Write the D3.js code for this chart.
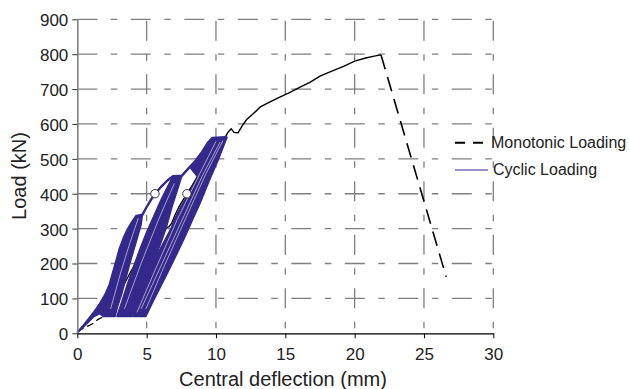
<!DOCTYPE html>
<html>
<head>
<meta charset="utf-8">
<script src="https://cdn.jsdelivr.net/npm/d3@7"></script>
<style>
  body { margin: 0; background: #fff; }
  svg { display: block; font-family: "Liberation Sans", Arial, sans-serif; }
</style>
</head>
<body>
<svg id="chart" width="629" height="389"></svg>
<script>
// --- data (deflection mm, load kN) ---
var xTicks = [0, 5, 10, 15, 20, 25, 30];
var yTicks = [0, 100, 200, 300, 400, 500, 600, 700, 800, 900];

var monotonic = [
  [0,5],[0.3,12],[0.6,18],[0.9,23],[1.2,30],[1.5,40],[1.8,46],[2.1,50],
  [2.5,75],[3.0,110],[3.5,150],[3.9,180],[4.2,200],[4.7,230],[5.2,260],[5.7,285],
  [6.2,300],[6.6,305],[6.8,315],[7.0,335],[7.3,360],[7.6,380],[7.9,400],[8.3,425],
  [8.7,452],[9.1,478],[9.5,505],[9.9,530],[10.3,552],[10.7,565],[10.9,578],[11.1,586],
  [11.3,576],[11.6,575],[11.9,595],[12.2,612],[12.7,630],[13.2,649],[13.9,663],[14.6,677],
  [15.3,690],[16.0,704],[16.8,720],[17.5,737],[18.4,752],[19.2,765],[20.0,780],[20.8,789],
  [21.5,795],[21.9,798],[26.6,162]
];

// cyclic loading: outlines of the three bands of repeated cycles
var bandA = [
  [0,4],[0.4,22],[0.8,42],[1.2,62],[1.6,85],[2.0,112],[2.3,140],[2.55,175],[2.8,210],
  [3.0,240],[3.3,272],[3.6,298],[3.9,318],[4.2,336],[4.7,340],
  [4.6,310],[4.25,262],[3.9,215],[3.55,165],[3.2,112],[2.9,75],[2.72,48],
  [2.3,48],[1.9,48],[1.6,56],[1.2,48],[0.8,32],[0.4,16],[0.05,2]
];
var bandB = [
  [2.85,48],[3.2,90],[3.6,140],[4.0,185],[4.5,240],[5.0,290],[5.5,335],[6.0,380],
  [6.5,420],[6.9,450],[7.55,452],
  [7.3,420],[6.85,365],[6.4,300],[5.9,245],[5.3,185],[4.75,125],[4.3,80],[3.92,48]
];
var bandC = [
  [4.0,48],[4.45,100],[4.95,150],[5.5,205],[6.15,255],[6.75,300],[7.05,330],[7.4,358],
  [7.75,382],[8.05,402],[8.4,425],[8.7,447],[8.15,474],[8.6,495],[9.1,522],[9.5,547],
  [9.75,560],[10.8,562],
  [10.25,505],[9.55,440],[8.85,372],[8.3,324],[7.75,275],[7.2,229],[6.6,180],[6.0,133],
  [5.45,90],[4.95,48]
];
var envelope = [
  [4.2,336],[4.7,340],[5.0,362],[5.3,382],[5.6,400],[6.0,418],[6.5,438],[6.9,450],
  [7.55,452],[8.0,472],[8.5,493],[9.0,520],[9.4,545],[9.75,560],[10.8,562]
];
var streaks = [
  [[4.6,70],[6.0,190],[7.5,320],[9.0,450],[10.3,548]],
  [[4.95,70],[6.3,195],[7.8,328],[9.25,455],[10.5,552]],
  [[4.3,60],[5.6,180],[7.2,325],[8.8,455],[10.0,550]],
  [[3.4,70],[4.6,200],[5.9,330],[7.0,430]],
  [[2.4,70],[3.1,170],[3.8,260],[4.4,330]]
];
var openMarkers = [[5.6,400],[7.9,400]];

var legendItems = ["Monotonic Loading", "Cyclic Loading"];

var blue = "#33298a";

var svg = d3.select("#chart");
var x = d3.scaleLinear().domain([0, 30]).range([77.3, 493.3]);
var y = d3.scaleLinear().domain([0, 900]).range([333.3, 19.3]);

var line = d3.line().x(function(d) { return x(d[0]); }).y(function(d) { return y(d[1]); });

// --- grid ---
var grid = svg.append("g").attr("stroke", "#7f7f7f").attr("stroke-width", 1.3)
  .attr("stroke-dasharray", "20,13.5,6.5,13.5");
grid.selectAll("line.h").data(yTicks.slice(1)).enter().append("line")
  .attr("x1", x(0)).attr("x2", x(30))
  .attr("y1", function(d) { return y(d); }).attr("y2", function(d) { return y(d); });
grid.selectAll("line.v").data(xTicks.slice(1)).enter().append("line")
  .attr("x1", function(d) { return x(d); }).attr("x2", function(d) { return x(d); })
  .attr("y1", y(0)).attr("y2", y(900))
  .attr("stroke-dashoffset", 28.5);

// --- monotonic (under the cyclic bands) ---
var lowPart = monotonic.filter(function(d) { return d[0] <= 2.1; });
var midPart = monotonic.filter(function(d) { return d[0] >= 2.1 && d[0] <= 21.9; });
var dropPart = monotonic.filter(function(d) { return d[0] >= 21.9; });

svg.append("path").attr("d", line(lowPart)).attr("fill", "none")
  .attr("stroke", "#000").attr("stroke-width", 1.3).attr("stroke-dasharray", "7,4");
svg.append("path").attr("d", line(midPart)).attr("fill", "none")
  .attr("stroke", "#000").attr("stroke-width", 1.4);
svg.append("path").attr("d", line(dropPart)).attr("fill", "none")
  .attr("stroke", "#000").attr("stroke-width", 1.6).attr("stroke-dasharray", "15,8");

// --- cyclic ---
[bandA, bandB, bandC].forEach(function(b) {
  svg.append("path").attr("d", line(b) + "Z")
    .attr("fill", blue).attr("stroke", blue).attr("stroke-width", 1.4)
    .attr("stroke-linejoin", "round");
});
svg.append("path").attr("d", line(envelope)).attr("fill", "none")
  .attr("stroke", blue).attr("stroke-width", 2.4).attr("stroke-linejoin", "round");
streaks.forEach(function(s) {
  svg.append("path").attr("d", line(s)).attr("fill", "none")
    .attr("stroke", "#fff").attr("stroke-width", 0.7).attr("stroke-opacity", 0.8);
});

// --- axes ---
var yAxis = d3.axisLeft(y).tickValues(yTicks).tickSize(5).tickSizeOuter(0).tickPadding(4);
var xAxis = d3.axisBottom(x).tickValues(xTicks).tickSize(5).tickSizeOuter(0).tickPadding(9.6);

var gy = svg.append("g").attr("transform", "translate(" + x(0) + ",0)").call(yAxis);
gy.select(".domain").attr("stroke", "#808080").attr("stroke-width", 1.6);
gy.selectAll(".tick line").attr("stroke", "#333");
gy.selectAll(".tick text").attr("font-size", 17).attr("fill", "#222")
  .attr("font-family", "Liberation Sans, Arial, sans-serif").attr("dy", "0.38em");

var gx = svg.append("g").attr("transform", "translate(0," + y(0) + ")").call(xAxis);
gx.select(".domain").attr("stroke", "#000").attr("stroke-width", 1.2);
gx.selectAll(".tick line").attr("stroke", "#000");
gx.selectAll(".tick text").attr("font-size", 17).attr("fill", "#222")
  .attr("font-family", "Liberation Sans, Arial, sans-serif");

// markers
svg.selectAll("circle.mk").data(openMarkers).enter().append("circle")
  .attr("cx", function(d) { return x(d[0]); }).attr("cy", function(d) { return y(d[1]); })
  .attr("r", 4.2).attr("fill", "#fff").attr("stroke", "#333").attr("stroke-width", 1);

// axis titles
svg.append("text").attr("x", 283).attr("y", 386).attr("text-anchor", "middle")
  .attr("font-size", 20).attr("fill", "#222").text("Central deflection (mm)");
svg.append("text").attr("transform", "translate(26,176) rotate(-90)").attr("text-anchor", "middle")
  .attr("font-size", 20).attr("fill", "#222").text("Load (kN)");

// legend
var lg = svg.append("g");
lg.append("line").attr("x1", 455).attr("x2", 485).attr("y1", 142.7).attr("y2", 142.7)
  .attr("stroke", "#000").attr("stroke-width", 2).attr("stroke-dasharray", "10,8");
lg.append("line").attr("x1", 455).attr("x2", 488).attr("y1", 170).attr("y2", 170)
  .attr("stroke", blue).attr("stroke-width", 1.2);
lg.append("text").attr("x", 491).attr("y", 147.5).attr("font-size", 16).attr("fill", "#222")
  .text(legendItems[0]);
lg.append("text").attr("x", 493).attr("y", 175).attr("font-size", 16).attr("fill", "#222")
  .text(legendItems[1]);
</script>
</body>
</html>
